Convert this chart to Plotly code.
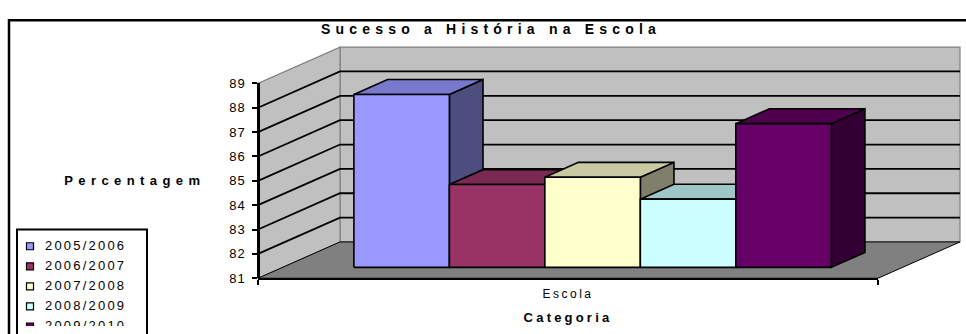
import plotly.graph_objects as go

# ---- data -------------------------------------------------------------
categoria = "Escola"
anos = ["2005/2006", "2006/2007", "2007/2008", "2008/2009", "2009/2010"]
valores = [88.1, 84.4, 84.7, 83.8, 86.9]
cores_frente = ["#9999FF", "#993366", "#FFFFCC", "#CCFFFF", "#660066"]
cores_topo = ["#7878CC", "#7A2952", "#C9C9A2", "#9FC6C6", "#4E004E"]
cores_lado = ["#4D4D80", "#4D1933", "#80806A", "#668080", "#330033"]
ticks_y = [81, 82, 83, 84, 85, 86, 87, 88, 89]

# ---- geometry (pixels of the 966x334 page) ----------------------------
W, H = 966, 334
FRONT_L, FRONT_R = 258, 878          # front plane of the category axis
BASE_PX, TOP_PX = 284, 80            # value 81 and value 89 on the front plane
DEPTH_DX_PX, DEPTH_DY_PX = 82, 38    # oblique offset of the full depth
Y_MIN, Y_MAX = ticks_y[0], ticks_y[-1]

SX = FRONT_R - FRONT_L                        # px per category unit
SY = (BASE_PX - TOP_PX) / (Y_MAX - Y_MIN)     # px per percentage point
x_range = [-0.5 - FRONT_L / SX, 0.5 + (W - FRONT_R) / SX]
y_range = [Y_MIN - (H - BASE_PX) / SY, Y_MAX + TOP_PX / SY]
DX = DEPTH_DX_PX / SX
DY = DEPTH_DY_PX / SY

GROUP = 0.77          # share of the category taken by the bars
D1, D2 = 0.30, 0.71   # depth of bar front and back faces


def proj(x, v, d):
    return x + d * DX, v + d * DY


def poly(pts):
    xs, ys = [], []
    for (x, v, d) in pts + [pts[0]]:
        px, py = proj(x, v, d)
        xs.append(px)
        ys.append(py)
    return xs, ys


def px2x(p):
    return x_range[0] + p / SX


def px2y(p):
    return y_range[1] - p / SY


fig = go.Figure()


def face(pts, fill, line_color, lw):
    xs, ys = poly(pts)
    fig.add_trace(go.Scatter(
        x=xs, y=ys, mode="lines", fill="toself", fillcolor=fill,
        line=dict(color=line_color, width=lw), hoverinfo="skip",
        showlegend=False))


# walls and floor
face([(-0.5, Y_MIN, 1), (0.5, Y_MIN, 1), (0.5, Y_MAX, 1), (-0.5, Y_MAX, 1)],
     "#C0C0C0", "#808080", 1.2)
face([(-0.5, Y_MIN, 0), (-0.5, Y_MIN, 1), (-0.5, Y_MAX, 1), (-0.5, Y_MAX, 0)],
     "#C0C0C0", "#808080", 1.2)
face([(-0.5, Y_MIN, 0), (0.5, Y_MIN, 0), (0.5, Y_MIN, 1), (-0.5, Y_MIN, 1)],
     "#808080", "#000000", 1)

# gridlines across side wall and back wall
gx, gy = [], []
for v in ticks_y[1:-1]:
    for (x, d) in [(-0.5, 0), (-0.5, 1), (0.5, 1)]:
        px, py = proj(x, v, d)
        gx.append(px)
        gy.append(py)
    gx.append(None)
    gy.append(None)
fig.add_trace(go.Scatter(x=gx, y=gy, mode="lines",
                         line=dict(color="#000000", width=1.8),
                         hoverinfo="skip", showlegend=False))

# 3-D columns, drawn left to right
bw = GROUP / len(valores)
for i, v in enumerate(valores):
    x0 = -GROUP / 2 + i * bw
    x1 = x0 + bw
    face([(x1, Y_MIN, D1), (x1, Y_MIN, D2), (x1, v, D2), (x1, v, D1)],
         cores_lado[i], "#000000", 1.6)
    face([(x0, v, D1), (x1, v, D1), (x1, v, D2), (x0, v, D2)],
         cores_topo[i], "#000000", 1.6)
    face([(x0, Y_MIN, D1), (x1, Y_MIN, D1), (x1, v, D1), (x0, v, D1)],
         cores_frente[i], "#000000", 1.6)

FONT = "Liberation Sans, Arial, sans-serif"

# legend: swatches and labels
LEG_L, LEG_T, LEG_R = 17, 233, 147
LEG_SQ_X, LEG_TXT_X, LEG_Y0, LEG_DY = 30, 45, 250.5, 21.0
leg_y = [px2y(LEG_Y0 + i * LEG_DY) for i in range(len(anos))]
fig.add_trace(go.Scatter(
    x=[px2x(LEG_SQ_X)] * len(anos), y=leg_y, mode="markers",
    marker=dict(symbol="square", size=7, color=cores_frente,
                line=dict(color="#000000", width=1.2)),
    hoverinfo="skip", showlegend=False))
fig.add_trace(go.Scatter(
    x=[px2x(LEG_TXT_X)] * len(anos), y=leg_y, mode="text", text=anos,
    textposition="middle right", cliponaxis=True,
    textfont=dict(family=FONT, size=13, color="#000000"),
    hoverinfo="skip", showlegend=False))

# axis carrier for the value / category axes
fig.add_trace(go.Scatter(x=[0], y=[Y_MIN], xaxis="x2", yaxis="y2",
                         mode="markers", marker=dict(opacity=0),
                         hoverinfo="skip", showlegend=False))

annotations = [
    dict(text="<b>Percentagem</b>", x=135 / W, y=1 - 182 / H,
         font=dict(size=13)),
    dict(text="<b>Categoria</b>", x=568 / W, y=1 - 325 / H,
         font=dict(size=13)),
]
for a in annotations:
    a.update(xref="paper", yref="paper", showarrow=False,
             xanchor="center", yanchor="middle")
    a["font"].update(family=FONT, color="#000000")

shapes = [
    # legend frame
    dict(type="rect", xref="paper", yref="paper",
         x0=LEG_L / W, x1=LEG_R / W, y0=-0.05, y1=1 - LEG_T / H,
         line=dict(color="#000000", width=2), fillcolor="rgba(0,0,0,0)"),
    # chart frame
    dict(type="path", xref="paper", yref="paper",
         path=f"M {9 / W},-0.05 L {9 / W},{1 - 14 / H} L 1.05,{1 - 14 / H}",
         line=dict(color="#000000", width=2.5)),
]

fig.update_layout(
    width=W, height=H, margin=dict(l=0, r=0, t=0, b=0),
    paper_bgcolor="#FFFFFF", plot_bgcolor="rgba(0,0,0,0)",
    showlegend=False,
    title=dict(text="<b>Sucesso a História na Escola</b>",
               x=491 / W, y=1 - 29 / H, xanchor="center", yanchor="middle",
               font=dict(family=FONT, size=14, color="#000000")),
    xaxis=dict(range=x_range, visible=False, fixedrange=True),
    yaxis=dict(range=y_range, visible=False, fixedrange=True),
    xaxis2=dict(domain=[FRONT_L / W, FRONT_R / W], range=[-0.5, 0.5],
                anchor="y2", showgrid=False, zeroline=False,
                showline=True, linecolor="#000000", linewidth=2,
                tickmode="array", tickvals=[0], ticktext=[categoria],
                ticks="outside", ticklen=3, tickcolor="rgba(0,0,0,0)",
                minor=dict(tickmode="array", tickvals=[-0.5, 0.5],
                           ticks="outside", ticklen=5, tickwidth=1.5,
                           tickcolor="#000000"),
                tickfont=dict(family=FONT, size=12, color="#000000"),
                fixedrange=True),
    yaxis2=dict(domain=[(H - BASE_PX) / H, (H - TOP_PX) / H],
                range=[Y_MIN, Y_MAX], anchor="free", position=FRONT_L / W,
                showgrid=False, zeroline=False, showline=True,
                linecolor="#000000", linewidth=2.5,
                tickmode="array", tickvals=ticks_y,
                ticks="outside", ticklen=5, tickwidth=1.5,
                tickcolor="#000000", ticklabelstandoff=4,
                tickfont=dict(family=FONT, size=13, color="#000000"),
                fixedrange=True),
    annotations=annotations,
    shapes=shapes,
)

# widen the character spacing of the labels
post = """
var gd = document.getElementById('{plot_id}');
function esp(sel, v) {
  gd.querySelectorAll(sel).forEach(function (t) { t.style.letterSpacing = v; });
}
esp('.gtitle', '5.2px');
esp('.y2tick text', '1px');
esp('.x2tick text', '2.5px');
esp('.annotation[data-index="0"] text', '5.4px');
esp('.annotation[data-index="1"] text', '3.2px');
esp('.textpoint text', '2.2px');
"""

fig.write_html("out.html", config={"displayModeBar": False}, post_script=post)
